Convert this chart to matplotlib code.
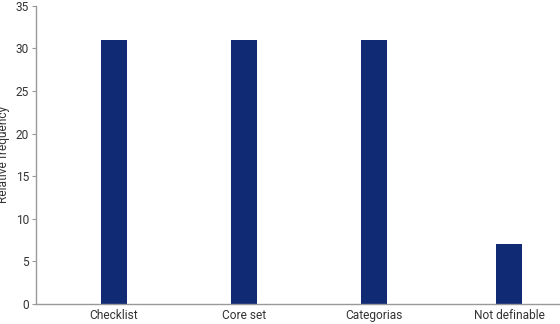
import matplotlib
matplotlib.use("Agg")
import matplotlib.pyplot as plt

categories = ["Checklist", "Core set", "Categorias", "Not definable"]
values = [31, 31, 31, 7]
yticks = [0, 5, 10, 15, 20, 25, 30, 35]

plt.rcParams['font.family'] = ['Roboto', 'DejaVu Sans']
fig = plt.figure(figsize=(5.6, 3.24), dpi=100)
ax = fig.add_axes([0.064, 0.062, 0.936, 0.92])
x = [0, 1, 2, 3.04]
ax.bar(x, values, width=0.2, color='#102a74')
ax.set_xticks(x)
ax.set_xticklabels(categories, fontsize=8.6, color='#333333')
ax.set_yticks(yticks)
ax.set_yticklabels([str(v) for v in yticks], fontsize=8.6, color='#333333')
ax.set_ylim(0, 35)
ax.set_xlim(-0.6, 3.43)
for s in ['top', 'right']:
    ax.spines[s].set_visible(False)
for s in ['left', 'bottom']:
    ax.spines[s].set_color('#999999')
    ax.spines[s].set_linewidth(1.0)
ax.tick_params(axis='x', length=0, pad=4)
ax.tick_params(axis='y', length=3, color='#999999', pad=2)
ax.set_ylabel('Relative frequency', fontsize=8.6, color='#333333', labelpad=4)
fig.savefig('out.png', dpi=100)
